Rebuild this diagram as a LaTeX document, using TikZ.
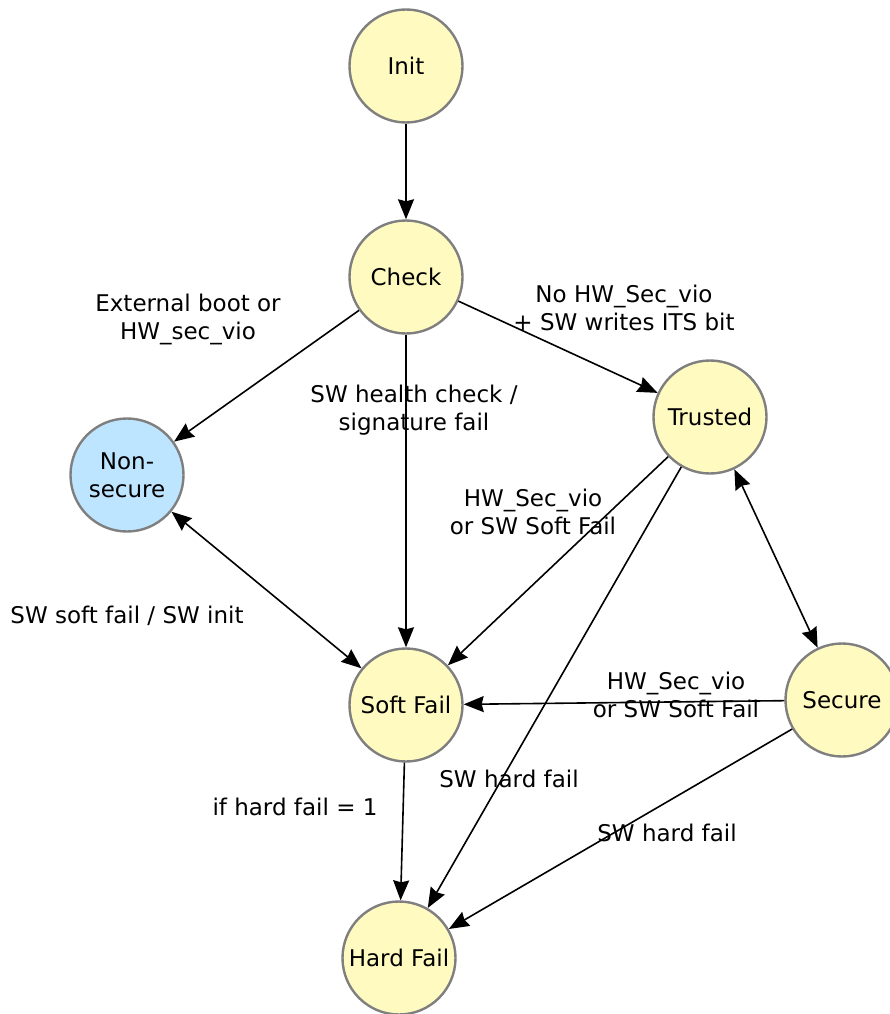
\documentclass[tikz,border=0pt]{standalone}
\usepackage{fontspec}
\setmainfont{DejaVu Sans}
\usetikzlibrary{arrows.meta}
\definecolor{stfill}{HTML}{FFFAC0}
\definecolor{nsfill}{HTML}{BDE5FF}
\definecolor{stborder}{HTML}{7F7F7F}
\begin{document}
\begin{tikzpicture}[x=1pt,y=-1pt,
  state/.style={circle,draw=stborder,line width=2.4pt,fill=stfill,minimum size=113pt,inner sep=0pt,align=center,font=\fontsize{23}{28}\selectfont},
  edge/.style={line width=1.6pt,-{Stealth[length=20pt,width=16pt,inset=2pt]}},
  bidir/.style={line width=1.6pt,{Stealth[length=20pt,width=16pt,inset=2pt]}-{Stealth[length=20pt,width=16pt,inset=2pt]}},
  lbl/.style={align=center,font=\fontsize{23}{28}\selectfont,inner sep=0pt}]
\clip (0,0) rectangle (890,1014);
\useasboundingbox (0,0) rectangle (890,1014);
\fill[white] (0,0) rectangle (890,1014);
\node[state] (init) at (406,66) {Init};
\node[state] (check) at (406,277) {Check};
\node[state] (trusted) at (710,417) {Trusted};
\node[state,fill=nsfill] (nonsec) at (127,475) {Non-\\secure};
\node[state] (soft) at (406,705) {Soft Fail};
\node[state] (secure) at (842,700) {Secure};
\node[state] (hard) at (399,958) {Hard Fail};

\draw[edge] (init) -- (check);
\draw[edge] (check) -- (nonsec);
\draw[edge] (check) -- (soft);
\draw[edge] (check) -- (trusted);
\draw[edge] (trusted) -- (soft);
\draw[edge] (trusted) -- (hard);
\draw[bidir] (trusted) -- (secure);
\draw[bidir] (nonsec) -- (soft);
\draw[edge] (secure) -- (soft);
\draw[edge] (secure) -- (hard);
\draw[edge] (soft) -- (hard);

\node[lbl] (l1) at (188,319) {External boot or\\HW\_sec\_vio};
\node[lbl] (l2) at (414,410) {SW health check /\\signature fail};
\node[lbl] (l3) at (624,308) {No HW\_Sec\_vio\\+ SW writes ITS bit};
\node[lbl] (l4) at (533,512) {HW\_Sec\_vio\\or SW Soft Fail};
\node[lbl] (l5) at (509,779) {SW hard fail};
\node[lbl] (l6) at (127,616) {SW soft fail / SW init};
\node[lbl] (l7) at (676,695) {HW\_Sec\_vio\\or SW Soft Fail};
\node[lbl] (l8) at (667,833) {SW hard fail};
\node[lbl] (l9) at (295,807) {if hard fail = 1};
\end{tikzpicture}
\end{document}
